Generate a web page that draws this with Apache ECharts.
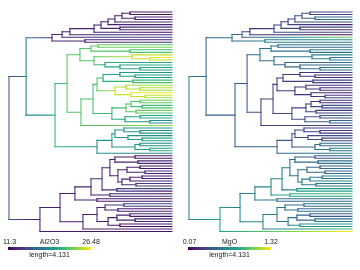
<!DOCTYPE html>
<html><head><meta charset="utf-8">
<script src="https://cdn.jsdelivr.net/npm/echarts@6/dist/echarts.min.js"></script>
<style>html,body{margin:0;padding:0;background:#fff}#c{width:360px;height:270px}</style>
</head><body><div id="c"></div>
<script>
// ---- data ----
const treeDepth = 8.11;          // root-to-tip length (tree units)
const legendLength = 4.131;      // scale bar length
const traitNames = ['Al2O3', 'MgO'];
const al2o3Range = [11.3, 26.48];
const mgoRange = [0.07, 1.32];
// tip values, top to bottom
const al2o3 = [
  12.5, 12.0, 13.0, 12.2, 13.5, 12.8, 14.0, 12.5, 11.8, 13.2, 14.5, 12.6, 13.0,
  22.0, 23.5, 21.5, 22.5,
  25.0, 26.48, 24.5,
  20.5, 21.0, 19.5, 20.0,
  19.0, 20.0, 19.5, 21.5, 22.0,
  24.5, 25.0, 24.0, 26.48, 25.5, 24.5,
  23.0, 22.5, 21.5, 22.0, 23.5, 22.0, 20.0, 20.5, 19.0, 18.5,
  24.0,
  19.0, 18.5, 19.5, 18.0, 20.5, 19.5, 18.5, 19.0, 20.0, 21.0, 18.0,
  12.5, 12.0, 13.0, 12.8, 11.8, 12.5, 13.5, 12.2, 12.0, 13.0, 12.5, 14.5, 13.0, 15.5,
  12.5, 11.5, 13.8, 12.0, 12.5, 15.0, 13.0, 12.0, 12.8, 13.5, 12.0, 12.6, 13.0, 12.2,
  11.3, 12.5, 12.0
];
const mgo = [
  0.35, 0.30, 0.45, 0.55, 0.30, 0.15, 0.40, 0.20, 0.35, 0.10, 1.05, 0.70, 0.55,
  0.55, 0.50, 0.60, 0.55,
  0.65, 0.60, 0.55,
  0.50, 0.45, 0.55, 0.50,
  0.30, 0.25, 0.20, 0.35, 0.30,
  0.25, 0.20, 0.30, 0.15, 0.25, 0.35,
  0.30, 0.20, 0.40, 0.30, 0.25, 0.35, 0.45, 0.30, 0.50, 0.40,
  0.30,
  0.35, 0.30, 0.25, 0.40, 0.35, 0.30, 0.45, 0.55, 0.60, 0.50, 0.65,
  0.45, 0.40, 0.50, 0.55, 0.40, 0.55, 0.45, 0.50, 0.60, 0.55, 0.65, 0.50, 0.60, 0.70,
  0.80, 0.95, 0.70, 0.55, 0.50, 0.60, 0.45, 0.50, 0.55, 0.40, 0.45, 0.50, 0.60, 0.75,
  0.65, 0.90, 1.32
];
// internal nodes: [name, depth from root, childA, childB]; numbers are tip indices
const internalNodes = [
  ['U5a',6.02,0,1],['U5b',6.27,2,3],['U5',5.62,'U5a','U5b'],['U4',5.27,'U5',4],
  ['U3',4.93,'U4',5],['U2b',5.52,6,7],['U2',4.58,'U3','U2b'],['U1',4.23,'U2',8],
  ['T1b',3.03,'U1',9],['T1',2.64,'T1b',10],['T2',3.78,11,12],['T0',2.14,'T1','T2'],
  ['Dup1',4.43,13,14],['Dup2',6.02,15,16],['Dup',4.08,'Dup1','Dup2'],
  ['Dl1b',7.01,18,19],['Dl1',6.12,17,'Dl1b'],
  ['Dl2c',6.52,22,23],['Dl2b',5.52,21,'Dl2c'],['Dl2',4.78,20,'Dl2b'],
  ['Dlow',4.23,'Dl1','Dl2'],['D',3.53,'Dup','Dlow'],
  ['G1b',6.27,25,26],['G1',5.52,24,'G1b'],['G2',6.17,27,28],['G',4.68,'G1','G2'],
  ['H1b',6.52,30,31],['H1',5.82,29,'H1b'],['H2b',6.77,33,34],['H2',6.07,32,'H2b'],
  ['H',5.27,'H1','H2'],['Gp',4.38,'G','H'],
  ['I3a',6.52,35,36],['I3b',6.62,37,38],['I3',6.07,'I3a','I3b'],['I2b',6.32,39,40],
  ['I2',5.82,'I3','I2b'],['I4a',6.52,41,42],['I4b',7.01,43,44],['I4',5.77,'I4a','I4b'],
  ['I',5.12,'I2','I4'],['F',4.18,'Gp','I'],['E',3.58,'F',45],['C',2.89,'D','E'],
  ['Ta2b',6.52,47,48],['Ta2',5.72,46,'Ta2b'],['Ta3b',6.62,50,51],['Ta3',5.92,49,'Ta3b'],
  ['Ta1',5.27,'Ta2','Ta3'],['Ta4a',6.52,52,53],['Ta4b',7.01,54,55],['Ta4',6.27,'Ta4a','Ta4b'],
  ['Ta',5.12,'Ta1','Ta4'],['Teal',4.38,'Ta',56],
  ['B',2.29,'C','Teal'],['A',0.85,'T0','B'],
  ['N3a',6.27,57,58],['N3b',6.42,59,60],['N3',5.27,'N3a','N3b'],
  ['N6a1',6.52,61,62],['N6a2',6.77,63,64],['N6a',5.87,'N6a1','N6a2'],
  ['N6b1',6.62,65,66],['N6b2',6.02,'N6b1',67],['N6b3',6.32,68,69],['N6b',5.62,'N6b2','N6b3'],
  ['N6',5.42,'N6a','N6b'],['N1',5.02,'N3','N6'],['N2',5.37,70,71],['N',4.63,'N1','N2'],
  ['M2',5.02,72,73],['M',4.08,'N','M2'],['L2',4.38,74,75],['L',3.28,'M','L2'],
  ['K4a',5.72,76,77],['K4b',5.42,78,79],['K4',4.78,'K4a','K4b'],
  ['K5a1',6.02,80,81],['K5a2',6.27,82,83],['K5a',5.37,'K5a1','K5a2'],['K5b',5.52,84,85],
  ['K5',4.93,'K5a','K5b'],['K3',4.38,'K4','K5'],['K2',3.68,'K3',86],
  ['K1',2.54,'L','K2'],['K',1.54,'K1',87],
  ['root',0,'A','K']
];
const viridis = ['#440154','#482475','#414487','#355f8d','#2a788e','#21918c','#22a884','#44bf70','#7ad151','#bddf26','#fde725'];

// ---- colour scale ----
const rgb = viridis.map(h => [1, 3, 5].map(i => parseInt(h.substr(i, 2), 16)));
function colorAt(v, range) {
  let t = (v - range[0]) / (range[1] - range[0]);
  t = Math.max(0, Math.min(1, t)) * (rgb.length - 1);
  const i = Math.min(rgb.length - 2, Math.floor(t)), f = t - i;
  const c = rgb[i].map((a, k) => Math.round(a + (rgb[i + 1][k] - a) * f));
  return 'rgb(' + c.join(',') + ')';
}

// ---- tree layout: node y = mean of children; node state = Brownian-motion (pruning) estimate ----
function buildSegments(tipValues) {
  const info = {};
  const get = c => (typeof c === 'number') ? {depth: treeDepth, y: c, v: tipValues[c], ev: 0} : info[c];
  const nodes = [];
  internalNodes.forEach(([name, depth, a, b]) => {
    const A = get(a), B = get(b);
    const va = (A.depth - depth) + A.ev, vb = (B.depth - depth) + B.ev;
    const wa = 1 / va, wb = 1 / vb;
    info[name] = {depth, y: (A.y + B.y) / 2, v: (A.v * wa + B.v * wb) / (wa + wb), ev: 1 / (wa + wb)};
    nodes.push([info[name], A, B]);
  });
  const segs = [];
  nodes.forEach(([n, A, B]) => {
    segs.push([n.depth, A.y, n.depth, B.y, n.v, n.v]);          // vertical connector
    segs.push([n.depth, A.y, A.depth, A.y, n.v, A.v]);          // branch to child A
    segs.push([n.depth, B.y, B.depth, B.y, n.v, B.v]);          // branch to child B
  });
  return segs;
}

const chart = echarts.init(document.getElementById('c'), null, {renderer: 'canvas'});
const ranges = [al2o3Range, mgoRange];
function renderItem(params, api) {
  const r = ranges[params.seriesIndex];
  const p1 = api.coord([api.value(0), api.value(1)]);
  const p2 = api.coord([api.value(2), api.value(3)]);
  const v1 = api.value(4), v2 = api.value(5);
  let stroke;
  if (Math.abs(p2[0] - p1[0]) < 0.01) {
    stroke = colorAt(v1, r);
  } else {
    const stops = [0, 0.25, 0.5, 0.75, 1].map(f => ({offset: f, color: colorAt(v1 + (v2 - v1) * f, r)}));
    stroke = new echarts.graphic.LinearGradient(p1[0], p1[1], p2[0], p2[1], stops, true);
  }
  return {type: 'line', shape: {x1: p1[0], y1: p1[1], x2: p2[0], y2: p2[1]},
          style: {stroke, lineWidth: 1.05, lineCap: 'square'}};
}
const nTips = al2o3.length;
const axisX = i => ({type: 'value', gridIndex: i, min: 0, max: treeDepth, show: false});
const axisY = i => ({type: 'value', gridIndex: i, min: 0, max: nTips - 1, inverse: true, show: false});
chart.setOption({
  animation: false,
  backgroundColor: '#fff',
  grid: [
    {left: 9, width: 163, top: 12, height: 219.5},
    {left: 189, width: 163, top: 12, height: 219.5}
  ],
  xAxis: [axisX(0), axisX(1)],
  yAxis: [axisY(0), axisY(1)],
  series: [
    {type: 'custom', xAxisIndex: 0, yAxisIndex: 0, renderItem, data: buildSegments(al2o3), encode: {x: [0, 2], y: [1, 3]}},
    {type: 'custom', xAxisIndex: 1, yAxisIndex: 1, renderItem, data: buildSegments(mgo), encode: {x: [0, 2], y: [1, 3]}}
  ]
});

// ---- colour-bar legends (length = legendLength tree units) ----
const graphics = [];
const font = '7px "Liberation Sans", Arial, sans-serif';
[0, 1].forEach(g => {
  const x0 = chart.convertToPixel({gridIndex: g}, [-0.05, 0])[0];
  const x1 = chart.convertToPixel({gridIndex: g}, [-0.05 + legendLength, 0])[0];
  const stops = viridis.map((c, i) => ({offset: i / (viridis.length - 1), color: c}));
  graphics.push({type: 'rect', shape: {x: x0, y: 247, width: x1 - x0, height: 3},
    style: {fill: new echarts.graphic.LinearGradient(0, 0, 1, 0, stops)}, silent: true});
  const mk = (text, x, y) => ({type: 'text', style: {text, x, y, font, fill: '#222', textAlign: 'center', textVerticalAlign: 'middle'}, silent: true});
  graphics.push(mk(String(ranges[g][0]), x0 + 1.5, 242.5));
  graphics.push(mk(traitNames[g], (x0 + x1) / 2, 242.5));
  graphics.push(mk(String(ranges[g][1]), x1, 242.5));
  graphics.push(mk('length=' + legendLength, (x0 + x1) / 2, 255.5));
});
chart.setOption({graphic: graphics});
</script></body></html>
